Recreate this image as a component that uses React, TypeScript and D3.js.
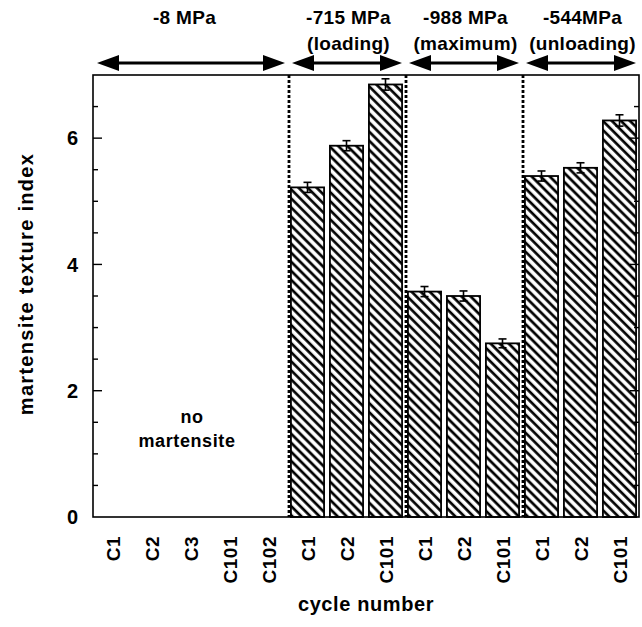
import React from "react";
import * as d3 from "d3";

const categories = ["C1", "C2", "C3", "C101", "C102", "C1", "C2", "C101", "C1", "C2", "C101", "C1", "C2", "C101"];
const values: (number | null)[] = [null, null, null, null, null, 5.22, 5.88, 6.85, 3.57, 3.5, 2.75, 5.4, 5.53, 6.28];
const errors: (number | null)[] = [null, null, null, null, null, 0.08, 0.08, 0.09, 0.08, 0.08, 0.07, 0.08, 0.08, 0.09];
const groupTitles = ["-8 MPa", "-715 MPa", "-988 MPa", "-544MPa"];
const groupSubtitles = ["", "(loading)", "(maximum)", "(unloading)"];
const groupSizes = [5, 3, 3, 3];
const yTicks = [0, 2, 4, 6];
const yMinorTicks = d3.range(0, 7.01, 0.5);

const W = 642;
const H = 627;
const left = 93;
const right = 639;
const top = 75;
const bottom = 517;
const FONT = "'Liberation Sans', Arial, Helvetica, sans-serif";

export default function App() {
  const x = d3
    .scaleBand<number>()
    .domain(d3.range(categories.length))
    .range([left, right])
    .paddingInner(0.15)
    .paddingOuter(0.075);
  const y = d3.scaleLinear().domain([0, 7]).range([bottom, top]);
  const step = x.step();
  const cellStart = (i: number) => (x(i) as number) - (step * 0.15) / 2;

  const groupStarts: number[] = [];
  let acc = 0;
  groupSizes.forEach((s) => {
    groupStarts.push(acc);
    acc += s;
  });
  const hp = 6.4;

  return (
    <svg width={W} height={H} style={{ position: "absolute", left: 0, top: 0, background: "#fff" }} fontFamily={FONT}>
      <defs>
        <pattern id="hatch" patternUnits="userSpaceOnUse" width={hp} height={hp} patternTransform="rotate(-45)">
          <rect width={hp} height={hp} fill="#fff" />
          <line x1={1.6} y1={-1} x2={1.6} y2={hp + 1} stroke="#000" strokeWidth={2.7} />
        </pattern>
      </defs>

      {/* header arrows & titles */}
      {groupSizes.map((s, g) => {
        const x0 = cellStart(groupStarts[g]);
        const x1 = cellStart(groupStarts[g]) + s * step;
        const a0 = x0 + 4;
        const a1 = x1 - 3;
        const ay = 63;
        const hl = 22;
        const hh = 8;
        const cx = g === 0 ? (x0 + x1) / 2 - 6 : (x0 + x1) / 2 + 2;
        return (
          <g key={g}>
            <line x1={a0 + hl - 2} x2={a1 - hl + 2} y1={ay} y2={ay} stroke="#000" strokeWidth={3} />
            <path d={`M${a0},${ay} L${a0 + hl},${ay - hh} L${a0 + hl},${ay + hh} Z`} fill="#000" />
            <path d={`M${a1},${ay} L${a1 - hl},${ay - hh} L${a1 - hl},${ay + hh} Z`} fill="#000" />
            <text x={cx} y={24} textAnchor="middle" fontSize={19} fontWeight="bold" letterSpacing={0.3}>
              {groupTitles[g]}
            </text>
            {groupSubtitles[g] && (
              <text x={cx} y={50} textAnchor="middle" fontSize={19} fontWeight="bold" letterSpacing={0.3}>
                {groupSubtitles[g]}
              </text>
            )}
          </g>
        );
      })}

      {/* bars */}
      {values.map((v, i) => {
        if (v == null) return null;
        const bx = x(i) as number;
        const cx = bx + x.bandwidth() / 2;
        const e = errors[i] as number;
        return (
          <g key={i}>
            <rect x={bx} y={y(v)} width={x.bandwidth()} height={y(0) - y(v)} fill="url(#hatch)" stroke="#000" strokeWidth={1.8} />
            {errors[i] != null && (
              <g stroke="#000" strokeWidth={1.6}>
                <line x1={cx} x2={cx} y1={y(v + e)} y2={y(v - e)} />
                <line x1={cx - 4} x2={cx + 4} y1={y(v + e)} y2={y(v + e)} />
                <line x1={cx - 4} x2={cx + 4} y1={y(v - e)} y2={y(v - e)} />
              </g>
            )}
          </g>
        );
      })}

      {/* group separators */}
      {groupStarts.slice(1).map((gs, k) => (
        <line key={k} x1={cellStart(gs) + 1} x2={cellStart(gs) + 1} y1={top} y2={bottom} stroke="#000" strokeWidth={2.8} strokeDasharray="3,2" />
      ))}

      {/* frame */}
      <rect x={left} y={top} width={right - left} height={bottom - top} fill="none" stroke="#000" strokeWidth={1.6} />

      {/* ticks */}
      {yMinorTicks.map((t) => {
        const major = yTicks.includes(t);
        const len = major ? 9 : 5;
        if (t === 0 || t === 7) return null;
        return (
          <g key={t} stroke="#000" strokeWidth={1.4}>
            <line x1={left} x2={left + len} y1={y(t)} y2={y(t)} />
            <line x1={right} x2={right - len} y1={y(t)} y2={y(t)} />
          </g>
        );
      })}
      {yTicks.map((t) => (
        <text key={t} x={78} y={y(t)} dy="0.36em" textAnchor="end" fontSize={20} fontWeight="bold">
          {t}
        </text>
      ))}

      {/* x labels */}
      {categories.map((c, i) => (
        <text
          key={i}
          transform={`translate(${(x(i) as number) + x.bandwidth() / 2 + 1},536) rotate(-90)`}
          dy="0.36em"
          textAnchor="end"
          fontSize={19}
          fontWeight="bold"
          letterSpacing={0.5}
        >
          {c}
        </text>
      ))}

      {/* no martensite */}
      <text x={192} y={423} textAnchor="middle" fontSize={18} fontWeight="bold" letterSpacing={0.6}>
        no
      </text>
      <text x={187} y={447} textAnchor="middle" fontSize={18} fontWeight="bold" letterSpacing={0.6}>
        martensite
      </text>

      {/* axis titles */}
      <text transform={`translate(33,284) rotate(-90)`} textAnchor="middle" fontSize={20} fontWeight="bold" letterSpacing={1.3}>
        martensite texture index
      </text>
      <text x={366} y={611} textAnchor="middle" fontSize={20} fontWeight="bold" letterSpacing={0.6}>
        cycle number
      </text>
    </svg>
  );
}
